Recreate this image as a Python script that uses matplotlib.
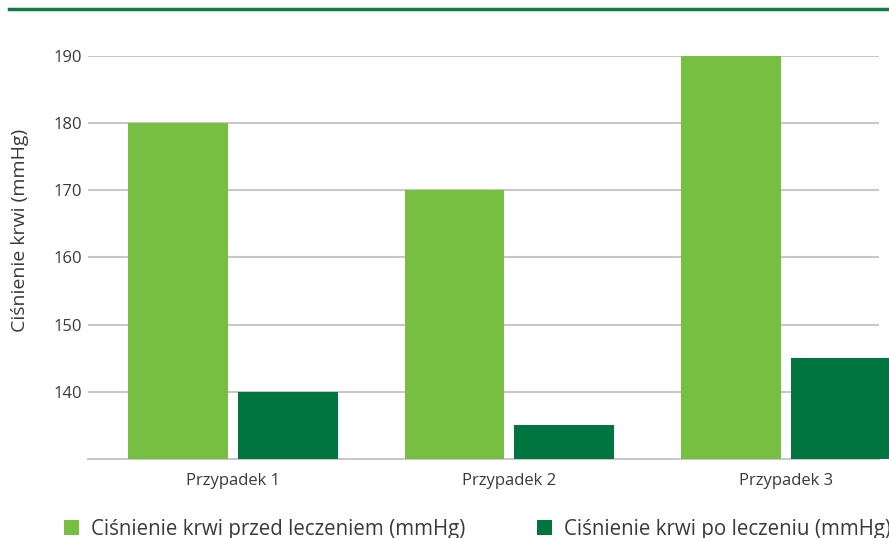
import matplotlib
matplotlib.use("Agg")
import matplotlib.pyplot as plt
import numpy as np
from matplotlib.lines import Line2D

categories = ["Przypadek 1", "Przypadek 2", "Przypadek 3"]
before = [180, 170, 190]
after = [140, 135, 145]
series_names = ["Ciśnienie krwi przed leczeniem (mmHg)", "Ciśnienie krwi po leczeniu (mmHg)"]
yticks = [140, 150, 160, 170, 180, 190]

plt.rcParams["font.family"] = ["Open Sans", "DejaVu Sans"]
TEXT = "#3a3a3a"
LIGHT = "#76bf43"
DARK = "#007540"
GRID = "#c8c8c8"

W, H = 889, 538
fig = plt.figure(figsize=(W / 100, H / 100), dpi=100)
ax_left, ax_right, ax_top, ax_bottom = 88, 879, 56, 459
ax = fig.add_axes([ax_left / W, 1 - ax_bottom / H, (ax_right - ax_left) / W, (ax_bottom - ax_top) / H])

x = np.arange(len(categories))
bw = 0.361
off = 0.1986
base = 130
b1 = ax.bar(x - off, np.array(before) - base, bw, bottom=base, color=LIGHT, clip_on=False, zorder=3)
b2 = ax.bar(x + off, np.array(after) - base, bw, bottom=base, color=DARK, clip_on=False, zorder=3)

ax.set_xlim(-0.5235, 2.336)
ax.set_ylim(130, 190)
ax.set_yticks(yticks)
ax.set_xticks(x)
ax.set_xticklabels(categories)
ax.tick_params(axis="both", length=0, labelsize=12, colors=TEXT)
ax.tick_params(axis="y", pad=4)
ax.tick_params(axis="x", pad=10)
ax.yaxis.grid(True, color=GRID, linewidth=1.5, zorder=0)
ax.set_axisbelow(True)
for s in ["top", "right", "left"]:
    ax.spines[s].set_visible(False)
ax.spines["bottom"].set_color(GRID)
ax.spines["bottom"].set_linewidth(1.5)
ax.set_ylabel("Ciśnienie krwi (mmHg)", fontsize=14, color=TEXT)
ax.yaxis.set_label_coords((20 - ax_left) / (ax_right - ax_left), (ax_bottom - 230) / (ax_bottom - ax_top))
ax.yaxis.label.set_verticalalignment("center")

# decorative rule across the top
fig.add_artist(Line2D([9 / W, 1], [1 - 9 / H, 1 - 9 / H], color="#127a45", linewidth=2.5, transform=fig.transFigure))

leg_kw = dict(frameon=False, fontsize=14.8, handlelength=0.75, handleheight=0.75,
              handletextpad=0.55, borderpad=0, borderaxespad=0, labelcolor=TEXT)
fig.legend([b1], [series_names[0]], loc="center left", bbox_to_anchor=(64 / W, 1 - 529 / H), **leg_kw)
fig.legend([b2], [series_names[1]], loc="center left", bbox_to_anchor=(537 / W, 1 - 529 / H), **leg_kw)

fig.savefig("out.png", dpi=100)
